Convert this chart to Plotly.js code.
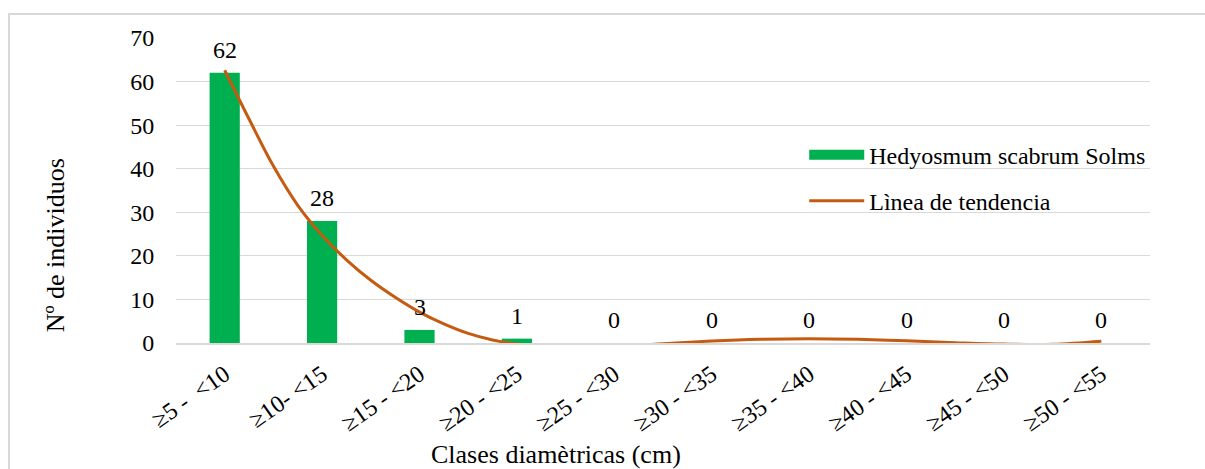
<!DOCTYPE html>
<html>
<head>
<meta charset="utf-8">
<script src="https://cdn.plot.ly/plotly-3.0.1.min.js"></script>
<style>
  html, body { margin: 0; padding: 0; background: #fff; }
  #wrap { position: relative; width: 1205px; height: 469px; overflow: hidden; }
  #chart { position: absolute; left: 0; top: 0; width: 1205px; height: 469px; }
  #frame { position: absolute; left: 8px; top: 13px; width: 1210px; height: 480px; border: 2px solid #d9d9d9; pointer-events: none; }
</style>
</head>
<body>
<div id="wrap">
  <div id="chart"></div>
  <div id="frame"></div>
</div>
<script>
const categories = ["≥5 -  <10", "≥10- <15", "≥15 - <20", "≥20 - <25", "≥25 - <30",
                    "≥30 - <35", "≥35 - <40", "≥40 - <45", "≥45 - <50", "≥50 - <55"];
const counts = [62, 28, 3, 1, 0, 0, 0, 0, 0, 0];
// Trend line (positions in category units, 0 = first class)
const trendX = [0, 0.25, 0.5, 0.75, 1, 1.25, 1.5, 1.75, 2, 2.25, 2.5, 2.75, 3, 3.5, 4, 4.5, 5, 5.5, 6, 6.5, 7, 7.5, 8, 8.5, 9];
const trendY = [62.6, 51.4, 40.6, 31.6, 24.7, 19.1, 14.4, 10.5, 7.1, 4.4, 2.2, 0.7, -0.2, -0.9, -0.9, -0.15, 0.45, 0.85, 1.0, 0.85, 0.5, 0.08, -0.25, -0.3, 0.4];
const barName = "Hedyosmum scabrum Solms";
const lineName = "Lìnea de tendencia";
const xTitle = "Clases diamètricas (cm)";
const yTitle = "Nº de individuos";

const idx = categories.map((c, i) => i);
const serif = "Liberation Serif, Times New Roman, serif";

const bars = {
  type: "bar", x: idx, y: counts, name: barName,
  marker: { color: "#00b050" }, width: 0.31,
  showlegend: false, hoverinfo: "skip"
};
// legend proxy for the bars (wide swatch like the original)
const barLegend = {
  type: "scatter", mode: "lines", x: [null], y: [null], name: barName,
  line: { color: "#00b050", width: 10 }, legendgroup: "a"
};
const trend = {
  type: "scatter", mode: "lines", x: trendX, y: trendY, name: lineName,
  line: { color: "#c55a11", width: 3, shape: "spline", smoothing: 1 },
  legendgroup: "b", hoverinfo: "skip"
};

const annotations = idx.map(i => ({
  x: i, y: counts[i], xref: "x", yref: "y", text: String(counts[i]),
  showarrow: false, yanchor: "bottom", yshift: 8,
  font: { family: serif, size: 24, color: "#000" }
}));
annotations.push({
  xref: "paper", yref: "paper", x: 0.390, y: -0.364, xanchor: "center", yanchor: "middle",
  text: xTitle, showarrow: false, font: { family: serif, size: 26, color: "#000" }
});
annotations.push({
  xref: "paper", yref: "paper", x: -0.124, y: 0.321, xanchor: "center", yanchor: "middle",
  textangle: -90, text: yTitle, showarrow: false, font: { family: serif, size: 26, color: "#000" }
});

const layout = {
  width: 1205, height: 469,
  margin: { l: 176, r: 55, t: 38, b: 126 },
  paper_bgcolor: "#fff", plot_bgcolor: "#fff",
  font: { family: serif, size: 24, color: "#000" },
  showlegend: true,
  legend: {
    x: 0.645, y: 0.69, xanchor: "left", yanchor: "top",
    bgcolor: "rgba(0,0,0,0)", tracegroupgap: 12, itemwidth: 55,
    font: { family: serif, size: 24, color: "#000" }
  },
  xaxis: {
    tickmode: "array", tickvals: idx, ticktext: categories,
    range: [-0.5, 9.5], tickangle: -35,
    ticks: "outside", ticklen: 6, tickcolor: "rgba(0,0,0,0)",
    showgrid: false, zeroline: false,
    showline: true, linecolor: "#d9d9d9", linewidth: 2,
    tickfont: { family: serif, size: 24, color: "#000" },
    automargin: false, fixedrange: true
  },
  yaxis: {
    range: [0, 70], dtick: 10, tick0: 0,
    showgrid: true, gridcolor: "#d9d9d9", gridwidth: 1,
    zeroline: false, showline: false,
    ticks: "outside", ticklen: 16, tickcolor: "rgba(0,0,0,0)",
    tickfont: { family: serif, size: 24, color: "#000" },
    automargin: false, fixedrange: true
  },
  annotations: annotations
};

Plotly.newPlot("chart", [bars, barLegend, trend], layout, { displayModeBar: false, staticPlot: true });
</script>
</body>
</html>
